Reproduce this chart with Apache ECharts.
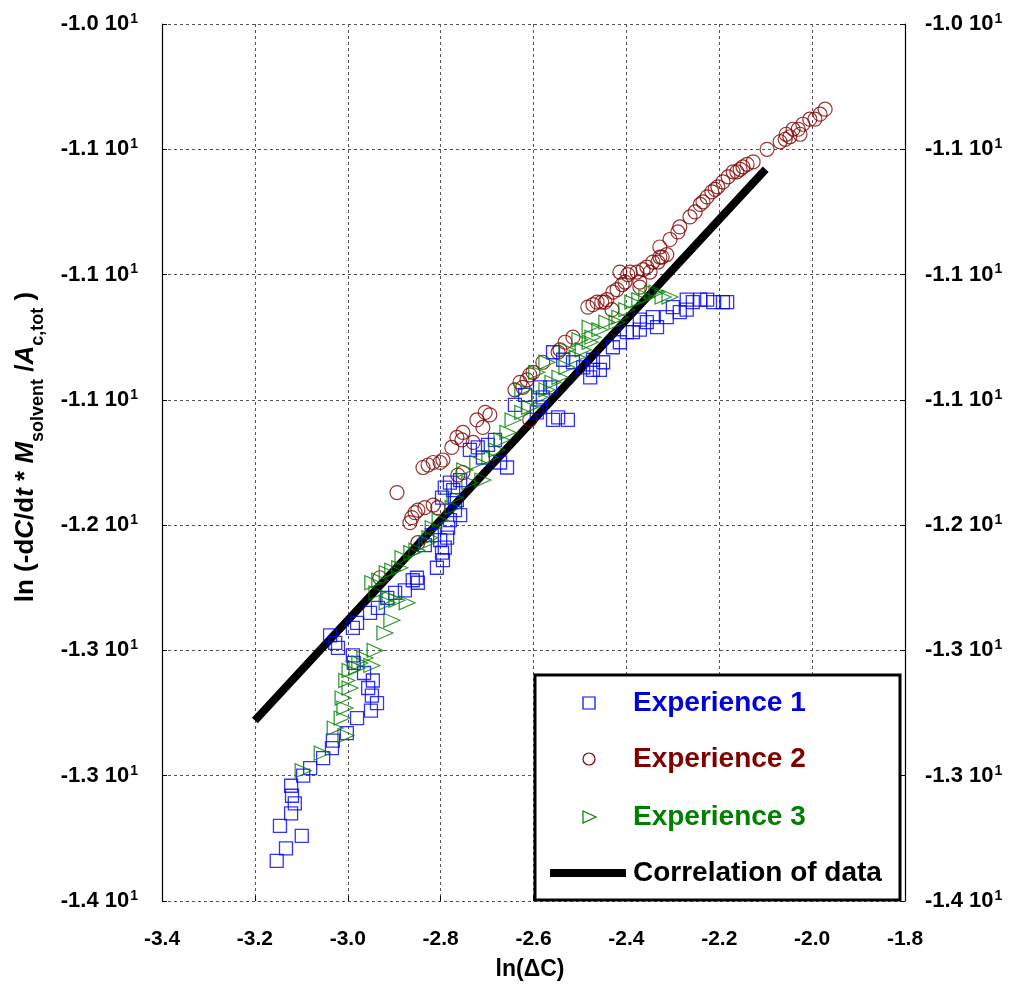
<!DOCTYPE html>
<html>
<head>
<meta charset="utf-8">
<script src="https://cdn.jsdelivr.net/npm/echarts@6/dist/echarts.min.js"></script>
<style>
  html, body { margin: 0; padding: 0; background: #fff; }
  #chart { width: 1018px; height: 995px; }
</style>
</head>
<body>
<div id="chart"></div>
<script>
// ln(ΔC) vs ln(-dC/dt * M_solvent / A_c,tot) for three experiments
const exp1 = [
  [-3.153,-13.34],[-3.133,-13.29],[-3.099,-13.24],[-3.146,-13.20],[-3.122,-13.15],[-3.114,-13.11],
  [-3.120,-13.08],[-3.122,-13.04],[-3.096,-13.00],[-3.081,-12.97],[-3.053,-12.93],[-3.034,-12.89],
  [-3.032,-12.86],[-3.002,-12.83],[-2.980,-12.77],[-2.950,-12.74],[-2.937,-12.71],[-2.948,-12.68],
  [-2.956,-12.65],[-2.946,-12.62],[-2.965,-12.59],[-2.987,-12.55],[-2.989,-12.52],[-3.021,-12.49],
  [-3.027,-12.47],[-3.038,-12.44],[-2.989,-12.41],[-2.980,-12.39],[-2.952,-12.35],[-2.935,-12.33],
  [-2.915,-12.29],[-2.898,-12.27],[-2.877,-12.26],[-2.860,-12.22],[-2.851,-12.21],[-2.849,-12.23],
  [-2.834,-12.08],[-2.819,-12.04],[-2.808,-12.17],[-2.795,-12.14],[-2.797,-12.11],[-2.791,-12.09],
  [-2.801,-12.06],[-2.786,-12.05],[-2.784,-12.01],[-2.780,-11.98],[-2.769,-11.94],[-2.758,-11.96],
  [-2.791,-11.85],[-2.773,-11.86],[-2.797,-11.89],[-2.765,-11.90],[-2.780,-11.83],[-2.758,-11.82],
  [-2.737,-11.70],[-2.709,-11.73],[-2.720,-11.69],[-2.698,-11.68],[-2.683,-11.66],[-2.657,-11.77],
  [-2.672,-11.75],[-2.640,-11.52],[-2.618,-11.48],[-2.593,-11.55],[-2.586,-11.53],[-2.558,-11.58],
  [-2.526,-11.58],[-2.547,-11.57],[-2.580,-11.49],[-2.564,-11.45],[-2.586,-11.45],[-2.558,-11.31],
  [-2.536,-11.34],[-2.515,-11.35],[-2.493,-11.37],[-2.472,-11.38],[-2.457,-11.38],[-2.478,-11.41],
  [-2.472,-11.34],[-2.450,-11.35],[-2.429,-11.29],[-2.414,-11.27],[-2.399,-11.23],[-2.386,-11.23],
  [-2.371,-11.22],[-2.356,-11.19],[-2.334,-11.21],[-2.343,-11.17],[-2.371,-11.18],[-2.313,-11.17],
  [-2.300,-11.13],[-2.285,-11.15],[-2.270,-11.14],[-2.270,-11.10],[-2.257,-11.11],[-2.241,-11.10],
  [-2.226,-11.10],[-2.213,-11.11],[-2.192,-11.11],[-2.183,-11.11]
];

const exp2 = [
  [-2.894,-11.87],[-2.931,-12.21],[-2.849,-12.07],[-2.866,-11.99],[-2.862,-11.97],[-2.855,-11.95],
  [-2.849,-11.94],[-2.834,-11.93],[-2.816,-11.92],[-2.806,-11.93],[-2.838,-11.77],[-2.827,-11.76],
  [-2.816,-11.75],[-2.801,-11.75],[-2.795,-11.74],[-2.776,-11.69],[-2.765,-11.65],[-2.763,-11.80],
  [-2.752,-11.79],[-2.752,-11.63],[-2.754,-11.66],[-2.730,-11.67],[-2.722,-11.58],[-2.709,-11.61],
  [-2.704,-11.55],[-2.694,-11.56],[-2.640,-11.46],[-2.629,-11.43],[-2.623,-11.45],[-2.614,-11.42],
  [-2.608,-11.40],[-2.601,-11.39],[-2.608,-11.58],[-2.580,-11.35],[-2.547,-11.31],[-2.543,-11.30],
  [-2.532,-11.27],[-2.515,-11.25],[-2.483,-11.13],[-2.472,-11.12],[-2.463,-11.11],[-2.453,-11.11],
  [-2.446,-11.11],[-2.442,-11.10],[-2.431,-11.14],[-2.429,-11.07],[-2.420,-11.06],[-2.409,-11.04],
  [-2.403,-11.03],[-2.397,-11.00],[-2.414,-10.99],[-2.392,-10.99],[-2.377,-10.99],[-2.371,-11.03],
  [-2.371,-11.05],[-2.364,-10.98],[-2.356,-10.97],[-2.349,-10.99],[-2.343,-10.95],[-2.332,-10.95],
  [-2.328,-10.93],[-2.323,-10.93],[-2.313,-10.92],[-2.328,-10.89],[-2.306,-10.86],[-2.289,-10.83],
  [-2.285,-10.81],[-2.263,-10.77],[-2.252,-10.75],[-2.241,-10.72],[-2.235,-10.71],[-2.226,-10.69],
  [-2.216,-10.67],[-2.209,-10.66],[-2.203,-10.65],[-2.192,-10.63],[-2.181,-10.61],[-2.170,-10.59],
  [-2.162,-10.59],[-2.155,-10.58],[-2.149,-10.57],[-2.140,-10.56],[-2.127,-10.55],[-2.097,-10.50],
  [-2.069,-10.47],[-2.058,-10.46],[-2.056,-10.44],[-2.048,-10.45],[-2.041,-10.42],[-2.030,-10.42],
  [-2.026,-10.44],[-2.020,-10.40],[-2.005,-10.38],[-1.994,-10.38],[-1.983,-10.36],[-1.972,-10.34]
];

const exp3 = [
  [-3.096,-12.98],[-3.055,-12.91],[-3.004,-12.84],[-3.027,-12.81],[-3.012,-12.77],[-3.006,-12.73],
  [-3.010,-12.69],[-2.995,-12.65],[-3.002,-12.62],[-2.995,-12.58],[-2.980,-12.57],[-2.948,-12.56],
  [-2.974,-12.55],[-2.963,-12.53],[-2.941,-12.50],[-2.920,-12.43],[-2.905,-12.38],[-2.915,-12.31],
  [-2.872,-12.31],[-2.894,-12.30],[-2.909,-12.29],[-2.937,-12.27],[-2.946,-12.23],[-2.931,-12.22],
  [-2.915,-12.19],[-2.903,-12.18],[-2.888,-12.17],[-2.881,-12.13],[-2.862,-12.11],[-2.851,-12.10],
  [-2.829,-12.07],[-2.823,-12.05],[-2.816,-12.01],[-2.801,-11.98],[-2.773,-11.93],[-2.769,-11.89],
  [-2.748,-11.78],[-2.737,-11.83],[-2.720,-11.75],[-2.709,-11.82],[-2.694,-11.73],[-2.679,-11.70],
  [-2.668,-11.66],[-2.655,-11.63],[-2.644,-11.58],[-2.623,-11.55],[-2.623,-11.46],[-2.608,-11.53],
  [-2.593,-11.39],[-2.586,-11.49],[-2.571,-11.46],[-2.571,-11.35],[-2.558,-11.43],[-2.543,-11.41],
  [-2.528,-11.37],[-2.528,-11.30],[-2.506,-11.33],[-2.500,-11.26],[-2.493,-11.30],[-2.478,-11.27],
  [-2.478,-11.21],[-2.472,-11.25],[-2.457,-11.22],[-2.442,-11.19],[-2.420,-11.19],[-2.414,-11.17],
  [-2.399,-11.14],[-2.386,-11.11],[-2.371,-11.10],[-2.356,-11.09],[-2.343,-11.07],[-2.334,-11.07],
  [-2.321,-11.09],[-2.306,-11.09]
];

// fitted correlation line end points
const corrX = [-3.2, -2.1];
const corrY = [-12.78, -10.58];

// y tick labels are printed as mantissa × 10^1
const yTickValues = [-13.5, -13, -12.5, -12, -11.5, -11, -10.5, -10];
const yTickMantissa = ['-1.4', '-1.3', '-1.3', '-1.2', '-1.1', '-1.1', '-1.1', '-1.0'];
const yTickExponent = '1';
const xTickValues = [-3.4, -3.2, -3.0, -2.8, -2.6, -2.4, -2.2, -2.0, -1.8];
const xTickLabels = ['-3.4', '-3.2', '-3.0', '-2.8', '-2.6', '-2.4', '-2.2', '-2.0', '-1.8'];

const seriesNames = ['Experience 1', 'Experience 2', 'Experience 3', 'Correlation of data'];
const markColors = ['#0000ff', '#800000', '#008000', '#000000'];
const textColors = ['#0000dd', '#800000', '#008000', '#000000'];

const FONT = '"Liberation Sans", Arial, Helvetica, sans-serif';

function yLabel(v) {
  let i = yTickValues.findIndex(t => Math.abs(t - v) < 1e-6);
  if (i < 0) return '';
  return '{m|' + yTickMantissa[i] + ' 10}{e|' + yTickExponent + '}';
}
function xLabel(v) {
  let i = xTickValues.findIndex(t => Math.abs(t - v) < 1e-6);
  return i < 0 ? '' : xTickLabels[i];
}

const labelRich = {
  m: { fontFamily: FONT, fontWeight: 'bold', fontSize: 22, color: '#000', lineHeight: 24, verticalAlign: 'middle' },
  e: { fontFamily: FONT, fontWeight: 'bold', fontSize: 14, color: '#000', lineHeight: 24, verticalAlign: 'top', padding: [0, 0, 0, 1] }
};

const chart = echarts.init(document.getElementById('chart'), null, { renderer: 'canvas' });

const G = { left: 162, right: 113, top: 24, bottom: 94 };

const yCommon = {
  type: 'value', min: -13.5, max: -10, interval: 0.5,
  axisLine: { show: true, lineStyle: { color: '#000', width: 1.2 } },
  axisTick: { show: true, inside: true, length: 5, lineStyle: { color: '#000' } },
};

const option = {
  backgroundColor: '#fff',
  animation: false,
  grid: { left: G.left, right: G.right, top: G.top, bottom: G.bottom, containLabel: false },
  xAxis: {
    type: 'value', min: -3.4, max: -1.8, interval: 0.2,
    axisLine: { show: false },
    axisTick: { show: true, inside: true, length: 5, lineStyle: { color: '#000' } },
    splitLine: { show: true, lineStyle: { color: '#555', type: [3, 3], width: 1 } },
    axisLabel: { formatter: xLabel, fontFamily: FONT, fontWeight: 'bold', fontSize: 21, color: '#000', margin: 28 }
  },
  yAxis: [
    Object.assign({}, yCommon, {
      position: 'left',
      splitLine: { show: true, lineStyle: { color: '#555', type: [3, 3], width: 1 } },
      axisLabel: { formatter: yLabel, rich: labelRich, margin: 24 }
    }),
    Object.assign({}, yCommon, {
      position: 'right',
      splitLine: { show: false },
      axisLabel: { formatter: yLabel, rich: labelRich, margin: 20 }
    })
  ],
  series: [
    {
      name: seriesNames[3], type: 'line', z: 2,
      data: corrX.map((x, i) => [x, corrY[i]]),
      showSymbol: false, symbol: 'none',
      lineStyle: { color: markColors[3], width: 8, cap: 'butt' }
    },
    {
      name: seriesNames[1], type: 'scatter', z: 3, data: exp2,
      symbol: 'circle', symbolSize: 14,
      itemStyle: { color: 'rgba(0,0,0,0)', borderColor: markColors[1], borderWidth: 1.2 }
    },
    {
      name: seriesNames[0], type: 'scatter', z: 4, data: exp1,
      symbol: 'rect', symbolSize: 13,
      itemStyle: { color: 'rgba(0,0,0,0)', borderColor: markColors[0], borderWidth: 1.3 }
    },
    {
      name: seriesNames[2], type: 'scatter', z: 5, data: exp3,
      symbol: 'triangle', symbolSize: [14, 16], symbolRotate: -90,
      itemStyle: { color: 'rgba(0,0,0,0)', borderColor: markColors[2], borderWidth: 1.2 }
    }
  ],
  graphic: []
};

chart.setOption(option);

// axis titles and legend box
const legendBox = { x: 535, y: 675, w: 365, h: 225 };
const rowY = [703, 759, 817, 873];
const iconX = 589;
const textX = 633;

const graphics = [
  {
    type: 'text', x: 26, y: 447, rotation: Math.PI / 2,
    style: {
      text: '{n|ln (-d}{i|C}{n|/d}{i|t}{n| * }{i|M}{s|solvent}{n| /}{i|A}{s|c,tot}{n| )}',
      align: 'center', verticalAlign: 'middle',
      rich: {
        n: { fontFamily: FONT, fontWeight: 'bold', fontSize: 26, fill: '#000', lineHeight: 42, verticalAlign: 'middle' },
        i: { fontFamily: FONT, fontWeight: 'bold', fontStyle: 'italic', fontSize: 26, fill: '#000', lineHeight: 42, verticalAlign: 'middle' },
        s: { fontFamily: FONT, fontWeight: 'bold', fontSize: 18, fill: '#000', lineHeight: 42, verticalAlign: 'bottom' }
      }
    }
  },
  {
    type: 'text', x: 530, y: 970,
    style: { text: 'ln(ΔC)', font: 'bold 23px ' + FONT, fill: '#000', align: 'center', verticalAlign: 'middle' }
  },
  {
    type: 'rect', shape: { x: legendBox.x, y: legendBox.y, width: legendBox.w, height: legendBox.h },
    style: { fill: '#fff', stroke: '#000', lineWidth: 3 }, z: 100
  },
  {
    type: 'rect', shape: { x: iconX - 6, y: rowY[0] - 6, width: 12, height: 12 },
    style: { fill: 'none', stroke: markColors[0], lineWidth: 1.2 }, z: 101
  },
  {
    type: 'circle', shape: { cx: iconX, cy: rowY[1], r: 6 },
    style: { fill: 'none', stroke: markColors[1], lineWidth: 1.2 }, z: 101
  },
  {
    type: 'polygon', shape: { points: [[iconX - 6, rowY[2] - 6], [iconX + 7, rowY[2]], [iconX - 6, rowY[2] + 6]] },
    style: { fill: 'none', stroke: markColors[2], lineWidth: 1.2 }, z: 101
  },
  {
    type: 'line', shape: { x1: 550, y1: rowY[3], x2: 626, y2: rowY[3] },
    style: { stroke: markColors[3], lineWidth: 8 }, z: 101
  }
];
seriesNames.forEach((name, i) => {
  graphics.push({
    type: 'text', x: textX, y: rowY[i], z: 101,
    style: { text: name, font: 'bold 28px ' + FONT, fill: textColors[i], align: 'left', verticalAlign: 'middle' }
  });
});
chart.setOption({ graphic: graphics });
</script>
</body>
</html>
